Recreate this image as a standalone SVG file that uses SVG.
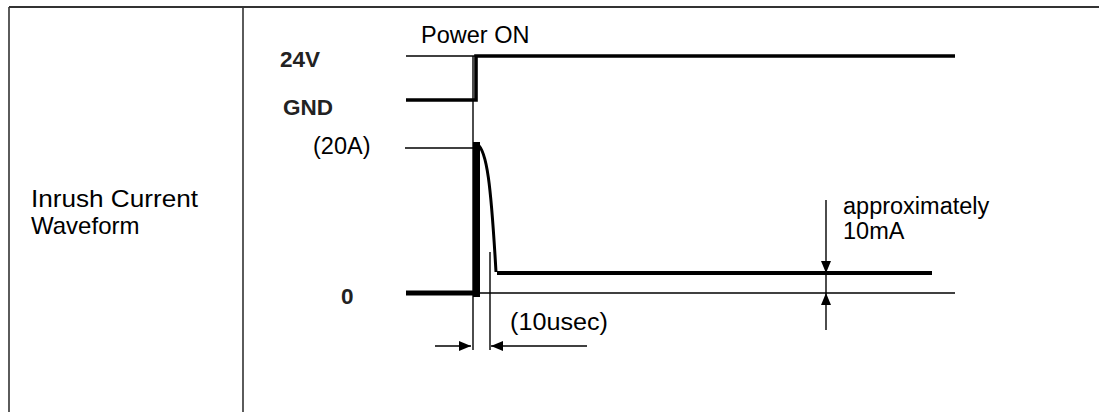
<svg xmlns="http://www.w3.org/2000/svg" width="1099" height="412" viewBox="0 0 1099 412">
<style>
.t{font-family:"Liberation Sans",Arial,sans-serif;font-size:23.5px;fill:#000}
.b{font-family:"Liberation Sans",Arial,sans-serif;font-size:22.5px;font-weight:bold;fill:#222}
.thin{stroke:#000;stroke-width:1.4;fill:none}
.thick{stroke:#000;stroke-width:4;fill:none}
.frame{stroke:#333;stroke-width:1.6;fill:none}
</style>
<defs>
<marker id="ah" viewBox="0 0 12 10" refX="12" refY="5" markerWidth="12" markerHeight="10" markerUnits="userSpaceOnUse" orient="auto">
<path d="M0,0 L12,5 L0,10 Z" fill="#000"/>
</marker>
</defs>
<rect width="1099" height="412" fill="#fff"/>
<g id="table">
<line class="frame" x1="9" y1="7" x2="1099" y2="7" style="stroke-width:2.2"/>
<line class="frame" x1="9" y1="7" x2="9" y2="412"/>
<line class="frame" x1="243" y1="7" x2="243" y2="412"/>
</g>
<g id="row-label">
<text class="t" x="31" y="207" style="font-size:24px" textLength="167" lengthAdjust="spacingAndGlyphs">Inrush Current</text>
<text class="t" x="31" y="234" style="font-size:24px">Waveform</text>
</g>
<g id="labels">
<text class="t" x="421" y="43">Power ON</text>
<text class="b" x="280" y="67">24V</text>
<text class="b" x="283" y="115">GND</text>
<text class="t" x="313" y="154">(20A)</text>
<text class="b" x="341" y="304">0</text>
<text class="t" x="510" y="330" textLength="98" lengthAdjust="spacingAndGlyphs">(10usec)</text>
<text class="t" x="843" y="214">approximately</text>
<text class="t" x="843" y="239">10mA</text>
</g>
<g id="voltage-trace">
<line class="thin" x1="406" y1="56" x2="475" y2="56"/>
<path class="thick" d="M406,100 H476 V56 H955" style="stroke-width:3.6"/>
</g>
<g id="current-trace">
<line class="thin" x1="405" y1="148" x2="474" y2="148"/>
<path class="thick" d="M406,293 H480" style="stroke-width:5"/>
<rect x="473" y="142" width="7" height="155" fill="#000"/>
<path class="thick" d="M477,144 C487,150 491,185 496,272" style="stroke-width:3"/>
<line class="thick" x1="497" y1="273" x2="932" y2="273"/>
<line class="thin" x1="480" y1="293" x2="955" y2="293"/>
</g>
<g id="connectors">
<line class="thin" x1="473" y1="56" x2="473" y2="350"/>
<line class="thin" x1="490" y1="252" x2="490" y2="350"/>
<line class="thin" x1="435" y1="346" x2="471" y2="346" marker-end="url(#ah)"/>
<line class="thin" x1="587" y1="346" x2="491" y2="346" marker-end="url(#ah)"/>
<line class="thin" x1="826" y1="200" x2="826" y2="273" marker-end="url(#ah)"/>
<line class="thin" x1="826" y1="273" x2="826" y2="293"/>
<line class="thin" x1="826" y1="330" x2="826" y2="293" marker-end="url(#ah)"/>
</g>
</svg>
